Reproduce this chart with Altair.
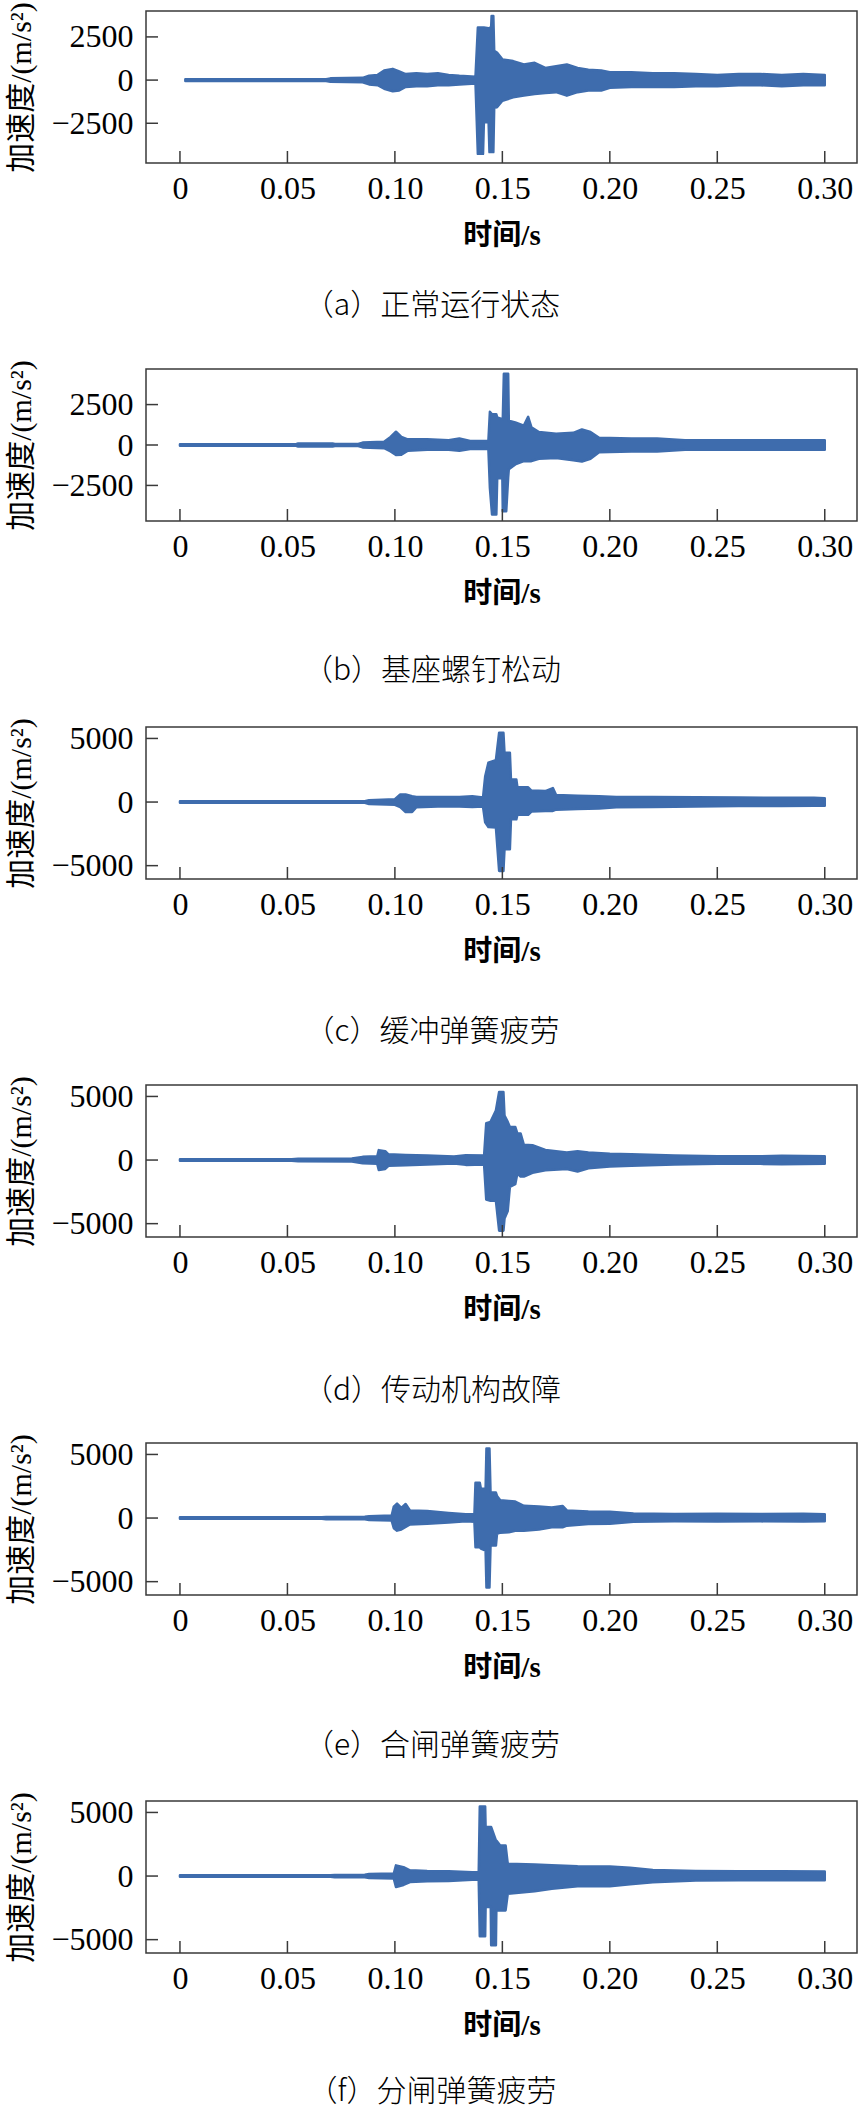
import altair as alt
import pandas as pd

BLUE = "#3e6cad"
AXC = "#3a3a3a"

X_TICKS = [0, 0.05, 0.10, 0.15, 0.20, 0.25, 0.30]
X_DOMAIN = [-0.0158, 0.315]

CAPTIONS = ["（a）正常运行状态", "（b）基座螺钉松动", "（c）缓冲弹簧疲劳",
            "（d）传动机构故障", "（e）合闸弹簧疲劳", "（f）分闸弹簧疲劳"]
CAPTION_OFFSETS = [41, 48, 51, 52, 49, 37]
Y_TICKS_AB = [-2500, 0, 2500]
Y_TICKS_CF = [-5000, 0, 5000]
Y_DOMAINS = [[-4800, 4000], [-4700, 4700], [-6050, 5900],
             [-6050, 5900], [-6050, 5900], [-6050, 5900]]

# envelope (upper / lower) of each acceleration record
A_T = [0.0025, 0.068, 0.070, 0.085, 0.088, 0.092, 0.095, 0.099, 0.102, 0.105, 0.110, 0.115, 0.120, 0.125, 0.130, 0.1375, 0.1386, 0.1410, 0.1414, 0.1436, 0.1440, 0.1448, 0.1450, 0.1458, 0.1462, 0.1475, 0.150, 0.155, 0.160, 0.165, 0.170, 0.175, 0.180, 0.185, 0.190, 0.196, 0.20, 0.21, 0.22, 0.23, 0.24, 0.25, 0.26, 0.27, 0.28, 0.29, 0.30]
A_UP = [50, 50, 100, 130, 250, 300, 550, 650, 500, 350, 400, 350, 400, 300, 250, 200, 3040, 3040, 3040, 3000, 3000, 3100, 3715, 3715, 1700, 1600, 1200, 1100, 900, 1000, 700, 800, 900, 700, 600, 550, 450, 450, 400, 400, 350, 300, 350, 350, 300, 350, 300]
A_LO = [-50, -50, -100, -130, -250, -300, -500, -650, -600, -400, -350, -350, -300, -300, -250, -200, -4270, -4270, -2440, -2440, -4170, -4170, -4170, -4170, -1600, -1575, -1200, -1000, -900, -800, -750, -700, -900, -700, -600, -600, -450, -400, -400, -400, -350, -350, -300, -300, -350, -300, -300]

B_T = [0.0, 0.054, 0.055, 0.071, 0.072, 0.083, 0.085, 0.095, 0.098, 0.1005, 0.103, 0.106, 0.115, 0.125, 0.130, 0.135, 0.1435, 0.1442, 0.1452, 0.1472, 0.1476, 0.1500, 0.1502, 0.1507, 0.1518, 0.1527, 0.1530, 0.1560, 0.1600, 0.1620, 0.1635, 0.1670, 0.175, 0.183, 0.187, 0.191, 0.195, 0.210, 0.222, 0.235, 0.250, 0.265, 0.280, 0.300]
B_UP = [50, 50, 100, 100, 60, 60, 150, 200, 500, 820, 500, 350, 350, 300, 400, 250, 250, 2050, 1900, 1900, 1700, 1600, 1600, 4400, 4400, 4400, 1500, 1400, 1200, 1740, 1100, 800, 700, 750, 960, 800, 450, 400, 400, 300, 300, 300, 300, 300]
B_LO = [-50, -50, -100, -100, -60, -60, -150, -200, -400, -615, -600, -350, -300, -300, -350, -250, -250, -2650, -4300, -4300, -2050, -2050, -4100, -4100, -4100, -2000, -1500, -1200, -1000, -1000, -1000, -850, -800, -950, -1025, -850, -450, -400, -400, -300, -300, -300, -300, -300]

C_T = [0.0, 0.086, 0.088, 0.100, 0.1025, 0.105, 0.108, 0.110, 0.120, 0.130, 0.136, 0.141, 0.1420, 0.1435, 0.1470, 0.1485, 0.1505, 0.1510, 0.1535, 0.1540, 0.1565, 0.1570, 0.1620, 0.1635, 0.1700, 0.1735, 0.1750, 0.1850, 0.1950, 0.2030, 0.2200, 0.2400, 0.2600, 0.2800, 0.2950, 0.3000]
C_UP = [60, 60, 150, 220, 590, 590, 450, 400, 400, 400, 450, 350, 2000, 3090, 3300, 5450, 5450, 3880, 3880, 1780, 1780, 1160, 1160, 900, 864, 1100, 550, 500, 450, 400, 400, 380, 350, 330, 330, 300]
C_LO = [-60, -60, -150, -220, -400, -785, -785, -400, -350, -350, -380, -350, -1600, -1970, -2000, -5420, -5420, -3710, -3710, -1360, -1360, -1000, -1000, -750, -706, -700, -600, -550, -500, -400, -380, -350, -320, -320, -300, -300]

D_T = [0.0, 0.052, 0.055, 0.080, 0.085, 0.0918, 0.0925, 0.0955, 0.097, 0.105, 0.115, 0.1275, 0.133, 0.1415, 0.1425, 0.1445, 0.1470, 0.1485, 0.1505, 0.1510, 0.1525, 0.1535, 0.1560, 0.1570, 0.1585, 0.1600, 0.1640, 0.1700, 0.1800, 0.1850, 0.1900, 0.2000, 0.2100, 0.2300, 0.2500, 0.2700, 0.2800, 0.3000]
D_UP = [60, 60, 100, 120, 250, 300, 780, 700, 450, 400, 350, 280, 380, 350, 2900, 3000, 3900, 5350, 5350, 3500, 3000, 2600, 2600, 2080, 2080, 1200, 1170, 800, 600, 700, 600, 500, 450, 350, 300, 300, 330, 300]
D_LO = [-60, -60, -100, -120, -250, -300, -780, -700, -450, -400, -350, -280, -380, -350, -3100, -3200, -3200, -5550, -5550, -4600, -4000, -2100, -1900, -1040, -1300, -1300, -1000, -800, -700, -900, -650, -500, -450, -350, -300, -300, -330, -300]

E_T = [0.0, 0.066, 0.068, 0.086, 0.088, 0.0985, 0.0995, 0.1010, 0.1030, 0.1050, 0.1070, 0.1150, 0.1250, 0.1330, 0.1370, 0.1375, 0.1395, 0.1400, 0.1422, 0.1426, 0.1440, 0.1445, 0.1470, 0.1475, 0.1490, 0.1530, 0.1560, 0.1600, 0.1670, 0.1730, 0.1780, 0.1800, 0.1900, 0.2000, 0.2110, 0.2300, 0.2500, 0.2700, 0.2900, 0.3000]
E_UP = [60, 60, 90, 100, 150, 200, 900, 1140, 800, 1100, 600, 550, 400, 300, 320, 2780, 2780, 2300, 2300, 5460, 5460, 2000, 2000, 1740, 1400, 1350, 1300, 960, 900, 830, 950, 600, 520, 500, 350, 310, 330, 310, 330, 300]
E_LO = [-60, -60, -90, -100, -150, -200, -800, -990, -900, -700, -500, -450, -350, -260, -300, -2290, -2290, -2400, -2550, -5460, -5460, -2160, -2160, -1250, -1150, -1120, -1000, -990, -900, -730, -730, -600, -470, -450, -300, -260, -280, -260, -280, -260]

F_T = [0.0, 0.070, 0.072, 0.086, 0.088, 0.0995, 0.1005, 0.1040, 0.1070, 0.1150, 0.1250, 0.1360, 0.1390, 0.1395, 0.1420, 0.1422, 0.1446, 0.1448, 0.1470, 0.1472, 0.1490, 0.1515, 0.1525, 0.1650, 0.1730, 0.1850, 0.2000, 0.2094, 0.2200, 0.2400, 0.2600, 0.2800, 0.3000]
F_UP = [60, 60, 90, 100, 160, 200, 840, 700, 450, 400, 380, 300, 300, 5470, 5470, 3850, 3850, 3850, 2800, 2800, 2400, 2400, 970, 900, 850, 780, 760, 650, 480, 400, 380, 380, 360]
F_LO = [-60, -60, -90, -100, -160, -200, -860, -700, -470, -400, -380, -300, -300, -4740, -4740, -2430, -2430, -5440, -5440, -2700, -2700, -2700, -1390, -1200, -1000, -800, -800, -650, -480, -360, -330, -330, -330]

SERIES = [(A_T, A_UP, A_LO), (B_T, B_UP, B_LO), (C_T, C_UP, C_LO),
          (D_T, D_UP, D_LO), (E_T, E_UP, E_LO), (F_T, F_UP, F_LO)]
Y_TICK_SETS = [Y_TICKS_AB, Y_TICKS_AB, Y_TICKS_CF, Y_TICKS_CF, Y_TICKS_CF, Y_TICKS_CF]

W, H = 711, 152
TICK = 12
LATIN = "Liberation Serif"
MIXED = "Liberation Serif, Noto Sans CJK SC"


def panel(series, yticks, ydom, caption, cap_offset):
    t, up, lo = series
    df = pd.DataFrame({"t": t, "up": up, "lo": lo})
    xs = alt.Scale(domain=X_DOMAIN, nice=False, zero=False)
    ys = alt.Scale(domain=ydom, nice=False, zero=False)
    x_axis = alt.Axis(
        values=X_TICKS, labelExpr="datum.value == 0 ? '0' : format(datum.value, '.2f')",
        title="时间/s", titleFont=MIXED, titleFontSize=29, titleFontWeight="bold",
        titleColor="#000", titlePadding=17,
        labelFont=LATIN, labelFontSize=32, labelColor="#000", labelPadding=10,
        ticks=False, tickSize=0, domain=False, grid=False, labelFlush=False)
    y_axis = alt.Axis(
        values=yticks, format="d",
        title="加速度/(m/s²)", titleFont=MIXED, titleFontSize=30, titleFontWeight="normal",
        titleColor="#000", titlePadding=14,
        labelFont=LATIN, labelFontSize=32, labelColor="#000", labelPadding=13,
        ticks=False, tickSize=0, domain=False, grid=False)
    area = alt.Chart(df).mark_area(
        color=BLUE, stroke=BLUE, strokeWidth=2.5, strokeJoin="round", opacity=1
    ).encode(
        x=alt.X("t:Q", scale=xs, axis=x_axis, title="时间/s"),
        y=alt.Y("up:Q", scale=ys, axis=y_axis, title="加速度/(m/s²)"),
        y2="lo:Q",
    )
    ytick = alt.Chart(pd.DataFrame({"v": yticks})).mark_rule(color=AXC, strokeWidth=1.5).encode(
        y=alt.Y("v:Q", scale=ys, axis=y_axis, title="加速度/(m/s²)"),
        x=alt.value(0), x2=alt.value(TICK))
    xtick = alt.Chart(pd.DataFrame({"t": X_TICKS})).mark_rule(color=AXC, strokeWidth=1.5).encode(
        x=alt.X("t:Q", scale=xs, axis=x_axis, title="时间/s"),
        y=alt.value(H), y2=alt.value(H - TICK))
    return alt.layer(area, ytick, xtick).properties(
        width=W, height=H,
        title=alt.TitleParams(caption, orient="bottom", frame="bounds", anchor="middle",
                              font="Noto Sans CJK SC", fontSize=30, fontWeight=300,
                              color="#000", offset=cap_offset))


panels = [panel(SERIES[i], Y_TICK_SETS[i], Y_DOMAINS[i], CAPTIONS[i], CAPTION_OFFSETS[i])
          for i in range(6)]

chart = alt.vconcat(*panels, spacing=206, bounds="flush").properties(
    padding={"left": 6, "top": 0, "right": 0, "bottom": 6},
    background="white",
).configure_view(stroke=AXC, strokeWidth=1.5)

chart.save("out.html", embed_options={"renderer": "svg", "actions": False})
